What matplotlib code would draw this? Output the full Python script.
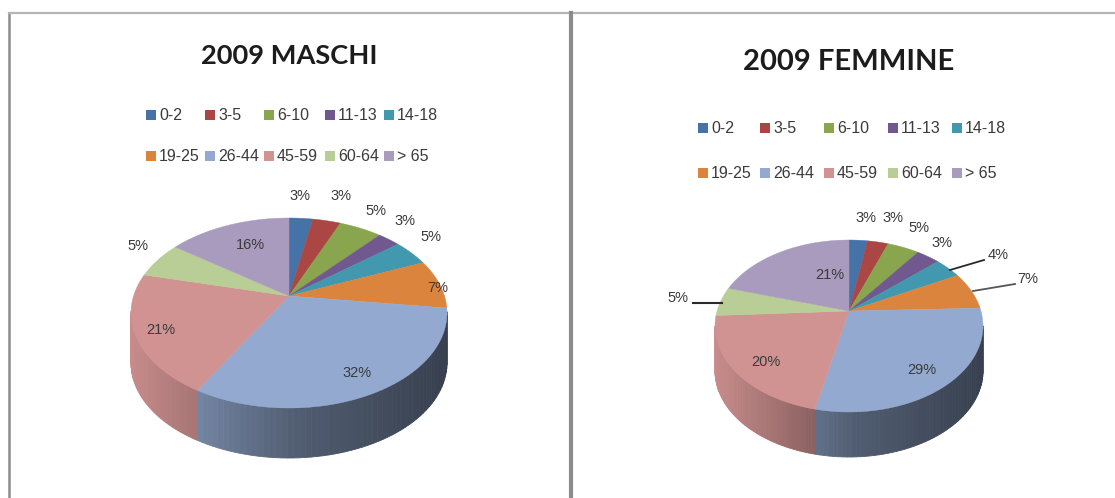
import numpy as np
import matplotlib
matplotlib.use("Agg")
import matplotlib.pyplot as plt
from matplotlib.colors import to_rgb

# data
age_row1 = ['0-2', '3-5', '6-10', '11-13', '14-18']
age_row2 = ['19-25', '26-44', '45-59', '60-64', '> 65']
maschi = [3, 3, 5, 3, 5, 7, 32, 21, 5, 16]
femmine = [3, 3, 5, 3, 4, 7, 29, 20, 5, 21]

colors = ['#4572a7', '#aa4643', '#89a54e', '#71588f', '#4198af',
          '#db843d', '#93a9cf', '#d19392', '#b9cd96', '#a99bbd']
text_col = '#3a3a3a'

# how the 3d tilt of each pie bends true angles into drawn angles
warp_true_m = [0, 10.8, 21.6, 39.6, 50.4, 68.4, 93.6, 208.8, 284.4, 302.4, 360]
warp_draw_m = [0, 8.7, 19, 35, 43.6, 58, 87, 215.5, 293.6, 314, 360]
warp_true_f = [0, 10.8, 21.6, 39.6, 50.4, 64.8, 90, 194.4, 266.4, 284.4, 360]
warp_draw_f = [0, 8, 17, 31, 41.5, 54, 78, 194.7, 277, 296, 360]

fig = plt.figure(figsize=(11.15, 4.98), dpi=100)
ax = fig.add_axes([0, 0, 1, 1])
ax.set_xlim(0, 1115)
ax.set_ylim(498, 0)
ax.axis('off')


def draw_pie(values, cx, cy, rx, ry, apex, depth, warp_true, warp_draw):
    # top face is an ellipse with the apex moved up, side wall is shaded strips
    edges = np.cumsum([0] + list(values)) * 3.6
    edges = np.interp(edges, warp_true, warp_draw)
    for i, v in enumerate(values):
        a = np.radians(np.linspace(edges[i], edges[i + 1], 60))
        x = cx + rx * np.sin(a)
        y = cy - ry * np.cos(a)
        base = np.array(to_rgb(colors[i]))
        for j in range(len(a) - 1):
            if a[j + 1] <= np.pi / 2 or a[j] >= 3 * np.pi / 2:
                continue
            t = (x[j] - (cx - rx)) / (2 * rx)
            shade = np.interp(t, [0, .2, .53, 1], [.95, .8, .55, .38])
            c = tuple(base * shade)
            ax.fill([x[j], x[j + 1], x[j + 1], x[j]],
                    [y[j], y[j + 1], y[j + 1] + depth, y[j] + depth],
                    color=c, lw=0.6, zorder=2)
    for i, v in enumerate(values):
        a = np.radians(np.linspace(edges[i], edges[i + 1], 60))
        x = cx + rx * np.sin(a)
        y = cy - ry * np.cos(a)
        ax.fill(np.r_[apex[0], x], np.r_[apex[1], y], color=colors[i], lw=0.3, zorder=3)


def draw_legend(xs, ys):
    for r, row in enumerate([age_row1, age_row2]):
        for k, lab in enumerate(row):
            ax.fill([xs[k], xs[k] + 10, xs[k] + 10, xs[k]],
                    [ys[r] - 5, ys[r] - 5, ys[r] + 5, ys[r] + 5],
                    color=colors[r * 5 + k], lw=0, zorder=3)
            ax.text(xs[k] + 13, ys[r], lab, fontsize=11.5, color=text_col, family='Liberation Sans',
                    ha='left', va='center')


def draw_labels(values, pos):
    for v, (px, py) in zip(values, pos):
        ax.text(px, py, f'{v}%', fontsize=10.5, color=text_col, family='Liberation Sans',
                ha='center', va='center', zorder=5)


# frame lines
ax.plot([9, 9], [13, 498], color='#8c8c8c', lw=1.8)
ax.plot([9, 1115], [13, 13], color='#b5b5b5', lw=1.6)
ax.plot([570.5, 570.5], [13, 498], color='#8c8c8c', lw=3)

# left chart
ax.text(289, 56, '2009 MASCHI', fontsize=19.6, fontweight='bold', family='Lato', color='#1c1c1c',
        ha='center', va='center')
draw_legend([146, 205, 264, 325, 384], [115, 156])
draw_pie(maschi, 289, 313, 158, 95, (289, 296), 50, warp_true_m, warp_draw_m)
draw_labels(maschi, [(300, 196), (341, 196), (376, 211), (405, 221), (431, 237),
                     (438, 288), (357, 373), (161, 330), (138, 246), (250, 245)])

# right chart
ax.text(849, 62, '2009 FEMMINE', fontsize=21, fontweight='bold', family='Lato', color='#1c1c1c',
        ha='center', va='center')
draw_legend([698, 760, 824, 888, 952], [128, 173])
draw_pie(femmine, 849, 326, 134, 86, (849, 311), 45, warp_true_f, warp_draw_f)
draw_labels(femmine, [(866, 218), (893, 218), (919, 228), (942, 243), (998, 255),
                      (1028, 279), (922, 370), (766, 362), (678, 298), (830, 275)])
ax.plot([950, 984], [270, 260], color='#2a2a2a', lw=1.3, zorder=4)
ax.plot([973, 1015], [291, 284], color='#555555', lw=1.3, zorder=4)
ax.plot([693, 722], [303, 303], color='#2a2a2a', lw=1.5, zorder=4)

fig.savefig('out.png', dpi=100)
